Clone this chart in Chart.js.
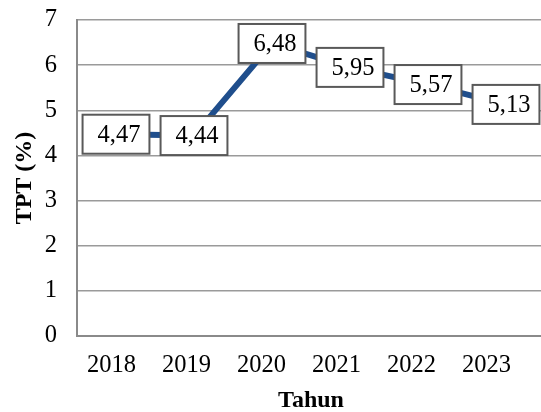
<!DOCTYPE html>
<html>
<head>
<meta charset="utf-8">
<script src="https://cdn.jsdelivr.net/npm/chart.js@4"></script>
<style>
  body { margin: 0; overflow: hidden; background: #fff; }
</style>
</head>
<body>
<canvas id="grafik" width="546" height="412"></canvas>
<script>
const tahun = ["2018", "2019", "2020", "2021", "2022", "2023"];
const tpt = [4.47, 4.44, 6.48, 5.95, 5.57, 5.13];
const yTicks = [0, 1, 2, 3, 4, 5, 6, 7];

const fonte = "'Liberation Serif', 'Times New Roman', serif";

// caixas brancas com o valor em cima de cada ponto
const rotulos = {
  id: "rotulos",
  afterDatasetsDraw(chart) {
    const ctx = chart.ctx;
    const meta = chart.getDatasetMeta(0);
    ctx.save();
    ctx.font = "24.5px " + fonte;
    ctx.textAlign = "center";
    ctx.textBaseline = "middle";
    meta.data.forEach((p, i) => {
      const txt = tpt[i].toFixed(2).replace(".", ",");
      const w = ctx.measureText(txt).width + 24;
      const h = 39;
      ctx.fillStyle = "#fff";
      ctx.fillRect(p.x - w / 2, p.y - h / 2, w, h);
      ctx.strokeStyle = "#595959";
      ctx.lineWidth = 2;
      ctx.strokeRect(p.x - w / 2, p.y - h / 2, w, h);
      ctx.fillStyle = "#000";
      ctx.fillText(txt, p.x + 3, p.y + 1);
    });
    ctx.restore();
  },
};

new Chart(document.getElementById("grafik"), {
  type: "line",
  data: {
    labels: tahun,
    datasets: [
      {
        data: tpt,
        borderColor: "#1F4E8C",
        borderWidth: 6,
        pointRadius: 0,
        tension: 0,
        xAxisID: "x",
      },
    ],
  },
  options: {
    responsive: false,
    animation: false,
    layout: { padding: { left: 10, top: 20, right: 1, bottom: 0 } },
    plugins: { legend: { display: false }, tooltip: { enabled: false } },
    scales: {
      x: {
        type: "category",
        display: false,
        offset: true,
      },
      xt: {
        type: "linear",
        position: "bottom",
        min: 2017.54,
        max: 2023.78,
        grid: { display: false },
        border: { display: false },
        ticks: {
          stepSize: 1,
          includeBounds: false,
          padding: 7,
          color: "#000",
          font: { family: fonte, size: 24.5 },
          callback: (v) => tahun[Math.round(v) - Number(tahun[0])],
        },
        title: {
          display: true,
          text: "Tahun",
          color: "#000",
          padding: { top: 4, bottom: -3 },
          font: { family: fonte, size: 24, weight: "bold" },
        },
        afterFit: (s) => { s.height = 76; s.paddingLeft = 0; s.paddingRight = 0; },
      },
      y: {
        min: yTicks[0],
        max: yTicks[yTicks.length - 1],
        afterBuildTicks: (s) => { s.ticks = yTicks.map((v) => ({ value: v })); },
        grid: { color: (c) => (c.tick.value === 0 ? "#8a8a8a" : "#9a9a9a"), lineWidth: (c) => (c.tick.value === 0 ? 2 : 1.5), drawTicks: false },
        border: { color: "#8a8a8a", width: 2 },
        ticks: {
          padding: 20,
          color: "#000",
          font: { family: fonte, size: 24.5 },
        },
        title: {
          display: true,
          text: "TPT (%)",
          color: "#000",
          padding: { top: 0, bottom: 0 },
          font: { family: fonte, size: 24, weight: "bold" },
        },
        afterFit: (s) => { s.width = 67; s.paddingTop = 0; s.paddingBottom = 0; },
      },
    },
  },
  plugins: [rotulos],
});
</script>
</body>
</html>
